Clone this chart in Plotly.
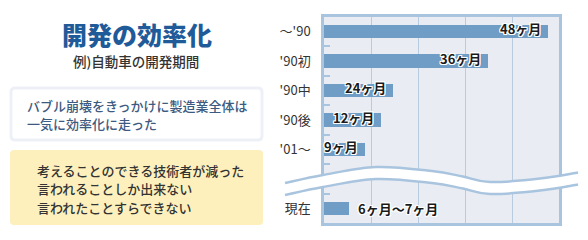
import plotly.graph_objects as go

# ---------------- data ----------------
categories = ["〜'90", "'90初", "'90中", "'90後", "'01〜", "現在"]
category_slot = [0, 1, 2, 3, 4, 6]          # slot 5 is the axis break
bar_length = [4.77, 3.49, 1.47, 1.21, 0.87, 0.53]   # bar length (grid units)
value_labels = ["48ヶ月", "36ヶ月", "24ヶ月", "12ヶ月", "9ヶ月", "6ヶ月〜7ヶ月"]
label_inside = [True, True, True, True, True, False]

title_text = "開発の効率化"
subtitle_text = "例)自動車の開発期間"
box1_lines = ["バブル崩壊をきっかけに製造業全体は", "一気に効率化に走った"]
box2_lines = ["考えることのできる技術者が減った", "言われることしか出来ない", "言われたことすらできない"]

# ---------------- styling ----------------
W, H = 588, 240
FONT = "Noto Sans CJK JP"
BAR = "#6f9dc6"
BORDER = "#a9c4de"
GRID = "#b8cbdf"
PLOTBG = "#e9edf3"


def px(x):
    return x / W


def py(y):
    return 1 - y / H


def catmull(points):
    d = "M %.5f,%.5f" % (px(points[0][0]), py(points[0][1]))
    n = len(points)
    for i in range(n - 1):
        p0 = points[max(i - 1, 0)]
        p1 = points[i]
        p2 = points[i + 1]
        p3 = points[min(i + 2, n - 1)]
        c1 = (p1[0] + (p2[0] - p0[0]) / 6, p1[1] + (p2[1] - p0[1]) / 6)
        c2 = (p2[0] - (p3[0] - p1[0]) / 6, p2[1] - (p3[1] - p1[1]) / 6)
        d += " C %.5f,%.5f %.5f,%.5f %.5f,%.5f" % (
            px(c1[0]), py(c1[1]), px(c2[0]), py(c2[1]), px(p2[0]), py(p2[1]))
    return d


def rounded_rect(x0, y0, x1, y1, r):
    X0, X1 = px(x0), px(x1)
    Y0, Y1 = py(y0), py(y1)
    rx, ry = r / W, r / H
    return (f"M {X0+rx},{Y0} L {X1-rx},{Y0} Q {X1},{Y0} {X1},{Y0-ry} "
            f"L {X1},{Y1+ry} Q {X1},{Y1} {X1-rx},{Y1} L {X0+rx},{Y1} "
            f"Q {X0},{Y1} {X0},{Y1+ry} L {X0},{Y0-ry} Q {X0},{Y0} {X0+rx},{Y0} Z")


fig = go.Figure()
fig.add_trace(go.Bar(
    x=bar_length, y=category_slot, orientation="h",
    marker=dict(color=BAR, line=dict(width=0)),
    width=0.46, hoverinfo="skip", showlegend=False,
))

outline = ", ".join(f"{a}px {b}px 0 #fff" for a, b in
                    [(1, 1), (-1, -1), (1, -1), (-1, 1), (0, 1), (0, -1), (1, 0), (-1, 0)])

annotations = []
for v, s, lab, inside in zip(bar_length, category_slot, value_labels, label_inside):
    annotations.append(dict(
        x=v, y=s, xref="x", yref="y", text=lab, showarrow=False,
        xanchor="right" if inside else "left",
        xshift=-5 if inside else 7, yshift=3 if inside else 0,
        font=dict(family=FONT, size=13, color="#1a1a1a", weight=700, shadow=outline),
    ))

# left panel texts
annotations.append(dict(x=px(137), y=py(34), xref="paper", yref="paper", text=title_text,
                        showarrow=False, xanchor="center", yanchor="middle",
                        font=dict(family=FONT, size=25, color="#1f5a99", weight=900)))
annotations.append(dict(x=px(136), y=py(61), xref="paper", yref="paper", text=subtitle_text,
                        showarrow=False, xanchor="center", yanchor="middle",
                        font=dict(family=FONT, size=13.5, color="#333333", weight=500)))
for i, t in enumerate(box1_lines):
    annotations.append(dict(x=px(25), y=py(105 + 18.5 * i), xref="paper", yref="paper", text=t,
                            showarrow=False, xanchor="left", yanchor="middle",
                            font=dict(family=FONT, size=13, color="#3d5a80", weight=500)))
for i, t in enumerate(box2_lines):
    annotations.append(dict(x=px(35), y=py(170 + 18.5 * i), xref="paper", yref="paper", text=t,
                            showarrow=False, xanchor="left", yanchor="middle",
                            font=dict(family=FONT, size=13, color="#333333", weight=500)))

# wavy break
upper = [(285, 183), (323, 175), (376, 167), (432, 171), (463, 176.5),
         (490, 182), (540, 178.5), (578, 172.5)]
lower = [(x, y + 12) for x, y in upper]
up_path = catmull(upper)
lo_path = catmull(lower)
lo_rev = catmull(lower[::-1])
fill_path = up_path + " L %.5f,%.5f " % (px(lower[-1][0]), py(lower[-1][1])) + lo_rev[lo_rev.index("C"):] + " Z"

shapes = [
    dict(type="path", xref="paper", yref="paper", path=rounded_rect(11, 88, 262, 140, 4),
         fillcolor="#ffffff", line=dict(color="#edf1f7", width=3), layer="below"),
    dict(type="path", xref="paper", yref="paper", path=rounded_rect(10, 150, 263, 225, 4),
         fillcolor="#fdf0bd", line=dict(width=0), layer="below"),
    dict(type="path", xref="paper", yref="paper", path=fill_path,
         fillcolor="#ffffff", line=dict(width=0), layer="above"),
    dict(type="path", xref="paper", yref="paper", path=up_path,
         line=dict(color=BORDER, width=2.5), layer="above"),
    dict(type="path", xref="paper", yref="paper", path=lo_path,
         line=dict(color=BORDER, width=2.5), layer="above"),
]

fig.update_layout(
    width=W, height=H, margin=dict(l=0, r=0, t=0, b=0),
    paper_bgcolor="#ffffff", plot_bgcolor=PLOTBG,
    bargap=0, showlegend=False,
    xaxis=dict(domain=[px(324), px(559)], range=[0, 5], tickvals=[1, 2, 3, 4],
               showticklabels=False, showgrid=True, gridcolor=GRID, gridwidth=1.2,
               zeroline=False, showline=True, linecolor=BORDER, linewidth=2.5, mirror=True,
               ticks=""),
    yaxis=dict(domain=[py(223), py(17)], range=[6.5, -0.5], tickvals=category_slot,
               ticktext=categories, showgrid=False, zeroline=False,
               showline=True, linecolor=BORDER, linewidth=2.5, mirror=True,
               ticks="", ticklabelstandoff=8,
               tickfont=dict(family=FONT, size=13, color="#333333"),
               minor=dict(tickvals=[0.5, 1.5, 2.5, 3.5, 4.5, 5.5], ticks="inside",
                          ticklen=6, tickwidth=2, tickcolor=BORDER)),
    annotations=annotations, shapes=shapes,
)

fig.write_html("out.html")
